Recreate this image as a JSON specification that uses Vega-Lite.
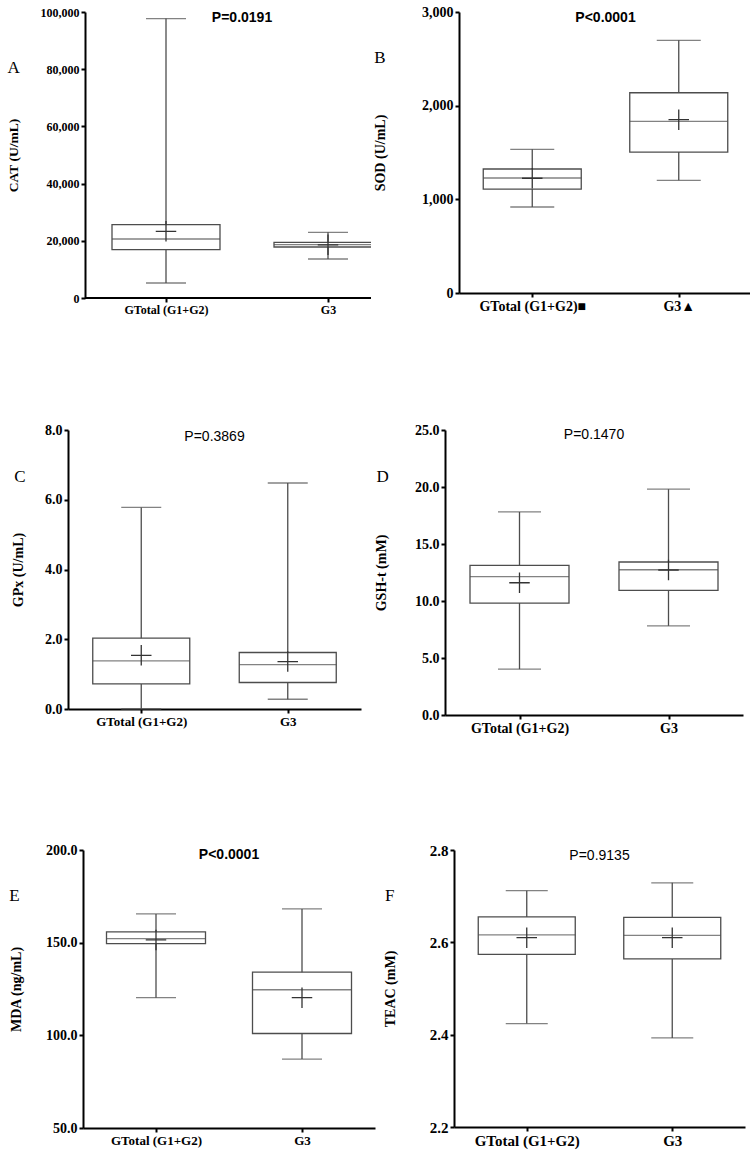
{
  "$schema": "https://vega.github.io/schema/vega-lite/v6.json",
  "background": "white",
  "padding": {"left": 0, "top": 5, "right": 5, "bottom": 5},
  "spacing": 108,
  "config": {
    "view": {"stroke": null},
    "axis": {"labelFont": "Liberation Serif", "labelFontWeight": "bold", "titleFont": "Liberation Serif", "titleFontWeight": "bold", "labelColor": "black", "titleColor": "black", "domainColor": "black", "tickColor": "black", "domainWidth": 2, "tickWidth": 2, "tickSize": 4, "labelPadding": 2, "grid": false, "titleFontSize": 14},
    "axisX": {"labelAngle": 0, "labelFontSize": 14},
    "title": {"orient": "left", "anchor": "end", "frame": "group", "angle": 0, "align": "right", "baseline": "top", "font": "Liberation Serif", "fontSize": 17, "fontWeight": "normal", "color": "black"}
  },
  "datasets": {
    "stats": [
      {"panel": "A", "group": "GTotal (G1+G2)", "min": 5240, "q1": 16900, "median": 20630, "q3": 25660, "max": 97700, "mean": 23320},
      {"panel": "A", "group": "G3", "min": 13640, "q1": 17830, "median": 18670, "q3": 19480, "max": 22970, "mean": 18600},
      {"panel": "B", "group": "GTotal (G1+G2)■", "min": 918, "q1": 1110, "median": 1228, "q3": 1324, "max": 1534, "mean": 1225},
      {"panel": "B", "group": "G3▲", "min": 1203, "q1": 1505, "median": 1833, "q3": 2138, "max": 2698, "mean": 1850},
      {"panel": "C", "group": "GTotal (G1+G2)", "min": 0.0, "q1": 0.72, "median": 1.38, "q3": 2.03, "max": 5.78, "mean": 1.54},
      {"panel": "C", "group": "G3", "min": 0.28, "q1": 0.76, "median": 1.27, "q3": 1.62, "max": 6.48, "mean": 1.36},
      {"panel": "D", "group": "GTotal (G1+G2)", "min": 4.02, "q1": 9.82, "median": 12.13, "q3": 13.13, "max": 17.81, "mean": 11.6},
      {"panel": "D", "group": "G3", "min": 7.82, "q1": 10.93, "median": 12.74, "q3": 13.42, "max": 19.81, "mean": 12.72},
      {"panel": "E", "group": "GTotal (G1+G2)", "min": 120.3, "q1": 149.5, "median": 152.2, "q3": 155.8, "max": 165.5, "mean": 151.5},
      {"panel": "E", "group": "G3", "min": 87.2, "q1": 101.0, "median": 124.6, "q3": 134.1, "max": 168.2, "mean": 120.3},
      {"panel": "F", "group": "GTotal (G1+G2)", "min": 2.424, "q1": 2.574, "median": 2.616, "q3": 2.655, "max": 2.712, "mean": 2.61},
      {"panel": "F", "group": "G3", "min": 2.393, "q1": 2.564, "median": 2.615, "q3": 2.654, "max": 2.729, "mean": 2.61}
    ],
    "pvals": [
      {"panel": "A", "p": "P=0.0191"},
      {"panel": "B", "p": "P<0.0001"},
      {"panel": "C", "p": "P=0.3869"},
      {"panel": "D", "p": "P=0.1470"},
      {"panel": "E", "p": "P<0.0001"},
      {"panel": "F", "p": "P=0.9135"}
    ],
    "blank": [{"k": 1}]
  },
  "vconcat": [
    {
      "spacing": 0,
      "hconcat": [
        {"width": 2, "height": 1, "data": {"name": "blank"}, "mark": {"type": "point", "opacity": 0}, "encoding": {}},
        {
          "spacing": -36,
          "hconcat": [
            {
              "width": 286, "height": 286,
              "title": {"text": "A", "offset": -26, "dy": 48},
              "data": {"name": "stats"},
              "transform": [{"filter": "datum.panel === 'A'"}],
              "layer": [
                {"mark": {"type": "rule", "color": "#4d4d4d", "strokeWidth": 1.3},
                 "encoding": {
                   "x": {"field": "group", "type": "nominal", "sort": null, "title": null, "scale": {"type": "point", "padding": 0.5, "range": [0, 324]}, "axis": {"domain": false, "labelFontSize": 12}},
                   "y": {"field": "min", "type": "quantitative", "title": "CAT (U/mL)", "scale": {"domain": [0, 100000], "nice": false}, "axis": {"values": [0, 20000, 40000, 60000, 80000, 100000], "format": ",d", "labelFontSize": 12, "titleFontSize": 13.5, "minExtent": 45, "maxExtent": 45, "titlePadding": 20}},
                   "y2": {"field": "max"}}},
                {"mark": {"type": "rule", "color": "black", "strokeWidth": 2},
                 "encoding": {"y": {"datum": 0, "type": "quantitative", "title": "CAT (U/mL)"}}},
                {"mark": {"type": "tick", "color": "#4d4d4d", "thickness": 1.3, "size": 40},
                 "encoding": {"x": {"field": "group", "type": "nominal", "sort": null, "title": null}, "y": {"field": "min", "type": "quantitative", "title": "CAT (U/mL)"}}},
                {"mark": {"type": "tick", "color": "#4d4d4d", "thickness": 1.3, "size": 40},
                 "encoding": {"x": {"field": "group", "type": "nominal", "sort": null, "title": null}, "y": {"field": "max", "type": "quantitative", "title": "CAT (U/mL)"}}},
                {"mark": {"type": "bar", "width": 108, "fill": "white", "stroke": "#4d4d4d", "strokeWidth": 1.3, "clip": true},
                 "encoding": {"x": {"field": "group", "type": "nominal", "sort": null, "title": null}, "y": {"field": "q1", "type": "quantitative", "title": "CAT (U/mL)"}, "y2": {"field": "q3"}}},
                {"mark": {"type": "tick", "color": "#4d4d4d", "thickness": 1.3, "size": 108, "clip": true},
                 "encoding": {"x": {"field": "group", "type": "nominal", "sort": null, "title": null}, "y": {"field": "median", "type": "quantitative", "title": "CAT (U/mL)"}}},
                {"mark": {"type": "point", "shape": "M-1,0H1M0,-1V1", "size": 420, "stroke": "#333333", "strokeWidth": 1.3, "filled": false, "opacity": 1},
                 "encoding": {"x": {"field": "group", "type": "nominal", "sort": null, "title": null}, "y": {"field": "mean", "type": "quantitative", "title": "CAT (U/mL)"}}},
                {"data": {"name": "pvals"}, "transform": [{"filter": "datum.panel === 'A'"}],
                 "mark": {"type": "text", "font": "Liberation Sans", "fontSize": 14, "fontWeight": "bold", "color": "black", "baseline": "alphabetic", "dy": 10, "dx": 14},
                 "encoding": {"text": {"field": "p"}, "y": {"datum": 100000, "type": "quantitative", "title": "CAT (U/mL)"}}}
              ]
            },
            {
              "width": 293, "height": 281,
              "title": {"text": "B", "offset": -24, "dy": 38},
              "data": {"name": "stats"},
              "transform": [{"filter": "datum.panel === 'B'"}],
              "layer": [
                {"mark": {"type": "rule", "color": "#4d4d4d", "strokeWidth": 1.3},
                 "encoding": {
                   "x": {"field": "group", "type": "nominal", "sort": null, "title": null, "scale": {"type": "point", "padding": 0.5}, "axis": {"labelFontSize": 14}},
                   "y": {"field": "min", "type": "quantitative", "title": "SOD (U/mL)", "scale": {"domain": [0, 3000], "nice": false}, "axis": {"values": [0, 1000, 2000, 3000], "format": ",d", "labelFontSize": 14, "minExtent": 38, "maxExtent": 38, "titlePadding": 34}},
                   "y2": {"field": "max"}}},
                {"mark": {"type": "tick", "color": "#4d4d4d", "thickness": 1.3, "size": 44},
                 "encoding": {"x": {"field": "group", "type": "nominal", "sort": null, "title": null}, "y": {"field": "min", "type": "quantitative", "title": "SOD (U/mL)"}}},
                {"mark": {"type": "tick", "color": "#4d4d4d", "thickness": 1.3, "size": 44},
                 "encoding": {"x": {"field": "group", "type": "nominal", "sort": null, "title": null}, "y": {"field": "max", "type": "quantitative", "title": "SOD (U/mL)"}}},
                {"mark": {"type": "bar", "width": 98, "fill": "white", "stroke": "#4d4d4d", "strokeWidth": 1.3},
                 "encoding": {"x": {"field": "group", "type": "nominal", "sort": null, "title": null}, "y": {"field": "q1", "type": "quantitative", "title": "SOD (U/mL)"}, "y2": {"field": "q3"}}},
                {"mark": {"type": "tick", "color": "#4d4d4d", "thickness": 1.3, "size": 98},
                 "encoding": {"x": {"field": "group", "type": "nominal", "sort": null, "title": null}, "y": {"field": "median", "type": "quantitative", "title": "SOD (U/mL)"}}},
                {"mark": {"type": "point", "shape": "M-1,0H1M0,-1V1", "size": 420, "stroke": "#333333", "strokeWidth": 1.3, "filled": false, "opacity": 1},
                 "encoding": {"x": {"field": "group", "type": "nominal", "sort": null, "title": null}, "y": {"field": "mean", "type": "quantitative", "title": "SOD (U/mL)"}}},
                {"data": {"name": "pvals"}, "transform": [{"filter": "datum.panel === 'B'"}],
                 "mark": {"type": "text", "font": "Liberation Sans", "fontSize": 14, "fontWeight": "bold", "color": "black", "baseline": "alphabetic", "dy": 10},
                 "encoding": {"text": {"field": "p"}, "y": {"datum": 3000, "type": "quantitative", "title": "SOD (U/mL)"}}}
              ]
            }
          ]
        }
      ]
    },
    {
      "spacing": 0,
      "hconcat": [
        {"width": 9, "height": 1, "data": {"name": "blank"}, "mark": {"type": "point", "opacity": 0}, "encoding": {}},
        {
          "spacing": 13,
          "hconcat": [
            {
              "width": 293, "height": 279,
              "title": {"text": "C", "offset": -26, "dy": 39},
              "data": {"name": "stats"},
              "transform": [{"filter": "datum.panel === 'C'"}],
              "layer": [
                {"mark": {"type": "rule", "color": "#4d4d4d", "strokeWidth": 1.3},
                 "encoding": {
                   "x": {"field": "group", "type": "nominal", "sort": null, "title": null, "scale": {"type": "point", "padding": 0.5}, "axis": {"labelFontSize": 13}},
                   "y": {"field": "min", "type": "quantitative", "title": "GPx (U/mL)", "scale": {"domain": [0, 8], "nice": false}, "axis": {"values": [0, 2, 4, 6, 8], "format": ".1f", "labelFontSize": 14, "minExtent": 24, "maxExtent": 24, "titlePadding": 19}},
                   "y2": {"field": "max"}}},
                {"mark": {"type": "tick", "color": "#4d4d4d", "thickness": 1.3, "size": 40},
                 "encoding": {"x": {"field": "group", "type": "nominal", "sort": null, "title": null}, "y": {"field": "min", "type": "quantitative", "title": "GPx (U/mL)"}}},
                {"mark": {"type": "tick", "color": "#4d4d4d", "thickness": 1.3, "size": 40},
                 "encoding": {"x": {"field": "group", "type": "nominal", "sort": null, "title": null}, "y": {"field": "max", "type": "quantitative", "title": "GPx (U/mL)"}}},
                {"mark": {"type": "bar", "width": 97, "fill": "white", "stroke": "#4d4d4d", "strokeWidth": 1.3},
                 "encoding": {"x": {"field": "group", "type": "nominal", "sort": null, "title": null}, "y": {"field": "q1", "type": "quantitative", "title": "GPx (U/mL)"}, "y2": {"field": "q3"}}},
                {"mark": {"type": "tick", "color": "#4d4d4d", "thickness": 1.3, "size": 97},
                 "encoding": {"x": {"field": "group", "type": "nominal", "sort": null, "title": null}, "y": {"field": "median", "type": "quantitative", "title": "GPx (U/mL)"}}},
                {"mark": {"type": "point", "shape": "M-1,0H1M0,-1V1", "size": 420, "stroke": "#333333", "strokeWidth": 1.3, "filled": false, "opacity": 1},
                 "encoding": {"x": {"field": "group", "type": "nominal", "sort": null, "title": null}, "y": {"field": "mean", "type": "quantitative", "title": "GPx (U/mL)"}}},
                {"data": {"name": "pvals"}, "transform": [{"filter": "datum.panel === 'C'"}],
                 "mark": {"type": "text", "font": "Liberation Sans", "fontSize": 14, "fontWeight": "normal", "color": "black", "baseline": "alphabetic", "dy": 11},
                 "encoding": {"text": {"field": "p"}, "y": {"datum": 8, "type": "quantitative", "title": "GPx (U/mL)"}}}
              ]
            },
            {
              "width": 298, "height": 285,
              "title": {"text": "D", "offset": -27, "dy": 39},
              "data": {"name": "stats"},
              "transform": [{"filter": "datum.panel === 'D'"}],
              "layer": [
                {"mark": {"type": "rule", "color": "#4d4d4d", "strokeWidth": 1.3},
                 "encoding": {
                   "x": {"field": "group", "type": "nominal", "sort": null, "title": null, "scale": {"type": "point", "padding": 0.5}, "axis": {"labelFontSize": 14}},
                   "y": {"field": "min", "type": "quantitative", "title": "GSH-t (mM)", "scale": {"domain": [0, 25], "nice": false}, "axis": {"values": [0, 5, 10, 15, 20, 25], "format": ".1f", "labelFontSize": 14, "minExtent": 31, "maxExtent": 31, "titlePadding": 26}},
                   "y2": {"field": "max"}}},
                {"mark": {"type": "tick", "color": "#4d4d4d", "thickness": 1.3, "size": 43},
                 "encoding": {"x": {"field": "group", "type": "nominal", "sort": null, "title": null}, "y": {"field": "min", "type": "quantitative", "title": "GSH-t (mM)"}}},
                {"mark": {"type": "tick", "color": "#4d4d4d", "thickness": 1.3, "size": 43},
                 "encoding": {"x": {"field": "group", "type": "nominal", "sort": null, "title": null}, "y": {"field": "max", "type": "quantitative", "title": "GSH-t (mM)"}}},
                {"mark": {"type": "bar", "width": 99, "fill": "white", "stroke": "#4d4d4d", "strokeWidth": 1.3},
                 "encoding": {"x": {"field": "group", "type": "nominal", "sort": null, "title": null}, "y": {"field": "q1", "type": "quantitative", "title": "GSH-t (mM)"}, "y2": {"field": "q3"}}},
                {"mark": {"type": "tick", "color": "#4d4d4d", "thickness": 1.3, "size": 99},
                 "encoding": {"x": {"field": "group", "type": "nominal", "sort": null, "title": null}, "y": {"field": "median", "type": "quantitative", "title": "GSH-t (mM)"}}},
                {"mark": {"type": "point", "shape": "M-1,0H1M0,-1V1", "size": 420, "stroke": "#333333", "strokeWidth": 1.3, "filled": false, "opacity": 1},
                 "encoding": {"x": {"field": "group", "type": "nominal", "sort": null, "title": null}, "y": {"field": "mean", "type": "quantitative", "title": "GSH-t (mM)"}}},
                {"data": {"name": "pvals"}, "transform": [{"filter": "datum.panel === 'D'"}],
                 "mark": {"type": "text", "font": "Liberation Sans", "fontSize": 14, "fontWeight": "normal", "color": "black", "baseline": "alphabetic", "dy": 9},
                 "encoding": {"text": {"field": "p"}, "y": {"datum": 25, "type": "quantitative", "title": "GSH-t (mM)"}}}
              ]
            }
          ]
        }
      ]
    },
    {
      "spacing": 0,
      "hconcat": [
        {"width": 7, "height": 1, "data": {"name": "blank"}, "mark": {"type": "point", "opacity": 0}, "encoding": {}},
        {
          "spacing": 8,
          "hconcat": [
            {
              "width": 292, "height": 278,
              "title": {"text": "E", "offset": -21, "dy": 38},
              "data": {"name": "stats"},
              "transform": [{"filter": "datum.panel === 'E'"}],
              "layer": [
                {"mark": {"type": "rule", "color": "#4d4d4d", "strokeWidth": 1.3},
                 "encoding": {
                   "x": {"field": "group", "type": "nominal", "sort": null, "title": null, "scale": {"type": "point", "padding": 0.5}, "axis": {"labelFontSize": 13}},
                   "y": {"field": "min", "type": "quantitative", "title": "MDA (ng/mL)", "scale": {"domain": [50, 200], "nice": false, "zero": false}, "axis": {"values": [50, 100, 150, 200], "format": ".1f", "labelFontSize": 14, "minExtent": 38, "maxExtent": 38, "titlePadding": 22}},
                   "y2": {"field": "max"}}},
                {"mark": {"type": "tick", "color": "#4d4d4d", "thickness": 1.3, "size": 40},
                 "encoding": {"x": {"field": "group", "type": "nominal", "sort": null, "title": null}, "y": {"field": "min", "type": "quantitative", "title": "MDA (ng/mL)"}}},
                {"mark": {"type": "tick", "color": "#4d4d4d", "thickness": 1.3, "size": 40},
                 "encoding": {"x": {"field": "group", "type": "nominal", "sort": null, "title": null}, "y": {"field": "max", "type": "quantitative", "title": "MDA (ng/mL)"}}},
                {"mark": {"type": "bar", "width": 99, "fill": "white", "stroke": "#4d4d4d", "strokeWidth": 1.3},
                 "encoding": {"x": {"field": "group", "type": "nominal", "sort": null, "title": null}, "y": {"field": "q1", "type": "quantitative", "title": "MDA (ng/mL)"}, "y2": {"field": "q3"}}},
                {"mark": {"type": "tick", "color": "#4d4d4d", "thickness": 1.3, "size": 99},
                 "encoding": {"x": {"field": "group", "type": "nominal", "sort": null, "title": null}, "y": {"field": "median", "type": "quantitative", "title": "MDA (ng/mL)"}}},
                {"mark": {"type": "point", "shape": "M-1,0H1M0,-1V1", "size": 420, "stroke": "#333333", "strokeWidth": 1.3, "filled": false, "opacity": 1},
                 "encoding": {"x": {"field": "group", "type": "nominal", "sort": null, "title": null}, "y": {"field": "mean", "type": "quantitative", "title": "MDA (ng/mL)"}}},
                {"data": {"name": "pvals"}, "transform": [{"filter": "datum.panel === 'E'"}],
                 "mark": {"type": "text", "font": "Liberation Sans", "fontSize": 14, "fontWeight": "bold", "color": "black", "baseline": "alphabetic", "dy": 9},
                 "encoding": {"text": {"field": "p"}, "y": {"datum": 200, "type": "quantitative", "title": "MDA (ng/mL)"}}}
              ]
            },
            {
              "width": 291, "height": 277,
              "title": {"text": "F", "offset": -21, "dy": 38},
              "data": {"name": "stats"},
              "transform": [{"filter": "datum.panel === 'F'"}],
              "layer": [
                {"mark": {"type": "rule", "color": "#4d4d4d", "strokeWidth": 1.3},
                 "encoding": {
                   "x": {"field": "group", "type": "nominal", "sort": null, "title": null, "scale": {"type": "point", "padding": 0.5}, "axis": {"labelFontSize": 15}},
                   "y": {"field": "min", "type": "quantitative", "title": "TEAC (mM)", "scale": {"domain": [2.2, 2.8], "nice": false, "zero": false}, "axis": {"values": [2.2, 2.4, 2.6, 2.8], "format": ".1f", "labelFontSize": 15, "minExtent": 25, "maxExtent": 25, "titlePadding": 32}},
                   "y2": {"field": "max"}}},
                {"mark": {"type": "tick", "color": "#4d4d4d", "thickness": 1.3, "size": 42},
                 "encoding": {"x": {"field": "group", "type": "nominal", "sort": null, "title": null}, "y": {"field": "min", "type": "quantitative", "title": "TEAC (mM)"}}},
                {"mark": {"type": "tick", "color": "#4d4d4d", "thickness": 1.3, "size": 42},
                 "encoding": {"x": {"field": "group", "type": "nominal", "sort": null, "title": null}, "y": {"field": "max", "type": "quantitative", "title": "TEAC (mM)"}}},
                {"mark": {"type": "bar", "width": 97, "fill": "white", "stroke": "#4d4d4d", "strokeWidth": 1.3},
                 "encoding": {"x": {"field": "group", "type": "nominal", "sort": null, "title": null}, "y": {"field": "q1", "type": "quantitative", "title": "TEAC (mM)"}, "y2": {"field": "q3"}}},
                {"mark": {"type": "tick", "color": "#4d4d4d", "thickness": 1.3, "size": 97},
                 "encoding": {"x": {"field": "group", "type": "nominal", "sort": null, "title": null}, "y": {"field": "median", "type": "quantitative", "title": "TEAC (mM)"}}},
                {"mark": {"type": "point", "shape": "M-1,0H1M0,-1V1", "size": 420, "stroke": "#333333", "strokeWidth": 1.3, "filled": false, "opacity": 1},
                 "encoding": {"x": {"field": "group", "type": "nominal", "sort": null, "title": null}, "y": {"field": "mean", "type": "quantitative", "title": "TEAC (mM)"}}},
                {"data": {"name": "pvals"}, "transform": [{"filter": "datum.panel === 'F'"}],
                 "mark": {"type": "text", "font": "Liberation Sans", "fontSize": 14, "fontWeight": "normal", "color": "black", "baseline": "alphabetic", "dy": 10},
                 "encoding": {"text": {"field": "p"}, "y": {"datum": 2.8, "type": "quantitative", "title": "TEAC (mM)"}}}
              ]
            }
          ]
        }
      ]
    }
  ]
}
